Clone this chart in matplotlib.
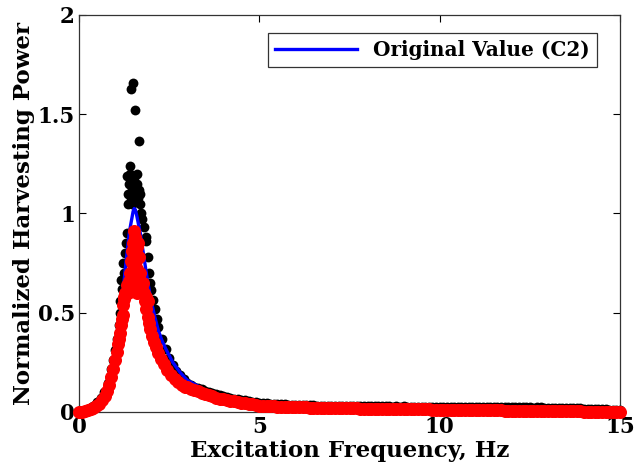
import matplotlib
matplotlib.use("Agg")
import matplotlib.pyplot as plt

plt.rcParams['font.family'] = ['DejaVu Serif']
plt.rcParams['font.weight'] = 'bold'

black_f = [0.00, 0.10, 0.20, 0.30, 0.40, 0.50, 0.60, 0.70, 0.80, 0.85,
           0.90, 0.95, 1.00, 1.05, 1.10, 1.13, 1.15, 1.17, 1.20, 1.22,
           1.25, 1.28, 1.30, 1.32,
           1.33, 1.35, 1.37, 1.39, 1.41, 1.42, 1.43, 1.44, 1.46, 1.48,
           1.50, 1.52, 1.55, 1.56, 1.58, 1.60, 1.61, 1.63, 1.65, 1.67,
           1.68, 1.70, 1.72,
           1.76, 1.80, 1.85, 1.87, 1.92, 1.95, 1.97, 2.00, 2.05, 2.10,
           2.15, 2.20, 2.30, 2.40, 2.50, 2.60, 2.70, 2.80, 2.90]
black_p = [0.000, 0.004, 0.010, 0.020, 0.032, 0.048, 0.068, 0.100, 0.145, 0.175,
           0.215, 0.260, 0.310, 0.370, 0.440, 0.500, 0.560, 0.665, 0.620, 0.750,
           0.700, 0.800, 0.850, 0.900,
           1.190, 1.100, 1.050, 1.150, 1.240, 1.200, 1.625, 1.080, 1.130, 1.050,
           1.655, 1.180, 1.520, 1.060, 1.100, 1.150, 1.200, 1.080, 1.120, 1.365,
           1.050, 1.100, 1.000,
           0.970, 0.930, 0.880, 0.860, 0.780, 0.700, 0.650, 0.615, 0.565, 0.520,
           0.470, 0.430, 0.370, 0.315, 0.270, 0.235, 0.205, 0.185, 0.165]

# identified points (red) around the resonance
red_f = [0.00, 0.08, 0.16, 0.24, 0.32, 0.40, 0.48, 0.56, 0.64, 0.72,
         0.78, 0.84, 0.90, 0.95, 1.00, 1.04, 1.08, 1.11, 1.14, 1.17,
         1.20, 1.22, 1.23, 1.24, 1.26,
         1.28, 1.33, 1.38, 1.42, 1.44, 1.46, 1.49, 1.51, 1.53, 1.55,
         1.57, 1.59, 1.61, 1.62, 1.64, 1.66, 1.68, 1.70, 1.72, 1.75,
         1.78, 1.80, 1.50, 1.55, 1.60, 1.65, 1.45, 1.35, 1.85, 1.90,
         1.83, 1.86, 1.90, 1.94, 1.98, 2.03, 2.08, 2.14, 2.20, 2.27,
         2.35, 2.45, 2.55, 2.65, 2.75, 2.85, 2.95]
red_p = [0.000, 0.002, 0.004, 0.008, 0.013, 0.020, 0.030, 0.042, 0.058, 0.080,
         0.105, 0.135, 0.175, 0.215, 0.260, 0.300, 0.340, 0.370, 0.400, 0.440,
         0.470, 0.490, 0.540, 0.580, 0.570,
         0.600, 0.640, 0.660, 0.700, 0.760, 0.810, 0.740, 0.850, 0.910, 0.880,
         0.800, 0.760, 0.720, 0.830, 0.850, 0.780, 0.700, 0.660, 0.640, 0.620,
         0.650, 0.600, 0.620, 0.650, 0.600, 0.640, 0.630, 0.600, 0.580, 0.560,
         0.560, 0.520, 0.480, 0.450, 0.420, 0.385, 0.355, 0.325, 0.295, 0.265,
         0.240, 0.210, 0.185, 0.165, 0.150, 0.138, 0.128]

# long tail, 3 to 15 Hz
tail_f = [3.0, 3.1, 3.2, 3.3, 3.4, 3.5, 3.6, 3.7, 3.8, 3.9,
          4.0, 4.1, 4.2, 4.3, 4.4, 4.5, 4.6, 4.7, 4.8, 4.9,
          5.0, 5.1, 5.2, 5.3, 5.4, 5.5, 5.6, 5.7, 5.8, 5.9,
          6.0, 6.1, 6.2, 6.3, 6.4, 6.5, 6.6, 6.7, 6.8, 6.9,
          7.0, 7.1, 7.2, 7.3, 7.4, 7.5, 7.6, 7.7, 7.8, 7.9,
          8.0, 8.1, 8.2, 8.3, 8.4, 8.5, 8.6, 8.7, 8.8, 8.9,
          9.0, 9.1, 9.2, 9.3, 9.4, 9.5, 9.6, 9.7, 9.8, 9.9,
          10.0, 10.1, 10.2, 10.3, 10.4, 10.5, 10.6, 10.7, 10.8, 10.9,
          11.0, 11.1, 11.2, 11.3, 11.4, 11.5, 11.6, 11.7, 11.8, 11.9,
          12.0, 12.1, 12.2, 12.3, 12.4, 12.5, 12.6, 12.7, 12.8, 12.9,
          13.0, 13.1, 13.2, 13.3, 13.4, 13.5, 13.6, 13.7, 13.8, 13.9,
          14.0, 14.1, 14.2, 14.3, 14.4, 14.5, 14.6, 14.7, 14.8, 14.9,
          15.0]
black_tail = [0.145, 0.136, 0.128, 0.121, 0.114, 0.107, 0.101, 0.095, 0.089, 0.084,
              0.079, 0.075, 0.071, 0.067, 0.064, 0.061, 0.058, 0.055, 0.052, 0.050,
              0.047, 0.045, 0.044, 0.042, 0.041, 0.040, 0.039, 0.038, 0.037, 0.036,
              0.035, 0.035, 0.034, 0.034, 0.033, 0.033, 0.032, 0.032, 0.031, 0.031,
              0.031, 0.030, 0.030, 0.031, 0.030, 0.029, 0.030, 0.029, 0.030, 0.029,
              0.029, 0.028, 0.028, 0.029, 0.029, 0.028, 0.028, 0.027, 0.028, 0.027,
              0.028, 0.027, 0.027, 0.026, 0.027, 0.027, 0.026, 0.026, 0.027, 0.026,
              0.026, 0.027, 0.027, 0.025, 0.026, 0.026, 0.025, 0.026, 0.025, 0.025,
              0.026, 0.025, 0.024, 0.025, 0.025, 0.026, 0.026, 0.024, 0.024, 0.025,
              0.025, 0.024, 0.023, 0.024, 0.024, 0.023, 0.022, 0.023, 0.023, 0.022,
              0.021, 0.022, 0.022, 0.021, 0.020, 0.020, 0.019, 0.019, 0.018, 0.018,
              0.017, 0.017, 0.016, 0.015, 0.014, 0.014, 0.013, 0.012, 0.011, 0.011,
              0.010]
red_tail = [0.125, 0.117, 0.110, 0.104, 0.098, 0.091, 0.085, 0.078, 0.072, 0.067,
            0.063, 0.059, 0.056, 0.053, 0.050, 0.047, 0.044, 0.041, 0.038, 0.035,
            0.032, 0.031, 0.030, 0.029, 0.028, 0.027, 0.026, 0.026, 0.025, 0.025,
            0.024, 0.024, 0.023, 0.023, 0.022, 0.022, 0.021, 0.021, 0.020, 0.020,
            0.019, 0.019, 0.019, 0.019, 0.018, 0.018, 0.018, 0.018, 0.017, 0.017,
            0.017, 0.017, 0.016, 0.016, 0.016, 0.016, 0.015, 0.015, 0.015, 0.015,
            0.014, 0.014, 0.014, 0.014, 0.013, 0.013, 0.013, 0.013, 0.012, 0.012,
            0.012, 0.012, 0.011, 0.011, 0.011, 0.011, 0.010, 0.010, 0.010, 0.010,
            0.009, 0.009, 0.009, 0.009, 0.008, 0.008, 0.008, 0.008, 0.007, 0.007,
            0.007, 0.007, 0.006, 0.006, 0.006, 0.006, 0.005, 0.005, 0.005, 0.005,
            0.004, 0.004, 0.004, 0.004, 0.003, 0.003, 0.003, 0.003, 0.003, 0.003,
            0.002, 0.002, 0.002, 0.002, 0.001, 0.001, 0.001, 0.001, 0.001, 0.001,
            0.000]

# original value curve (blue)
blue_f = [0.0, 0.2, 0.4, 0.6, 0.8, 0.9, 1.0, 1.1, 1.2, 1.3, 1.4, 1.5, 1.53,
          1.56, 1.6, 1.7, 1.8, 1.9, 2.0, 2.1, 2.2, 2.3, 2.4, 2.6, 2.8, 3.0,
          3.5, 4.0, 5.0, 6.0, 8.0, 10.0, 12.0, 15.0]
blue_p = [0.0, 0.008, 0.028, 0.065, 0.14, 0.20, 0.28, 0.41, 0.57, 0.75, 0.91,
          1.01, 1.025, 1.02, 0.99, 0.90, 0.78, 0.66, 0.56, 0.48, 0.41, 0.36,
          0.32, 0.25, 0.20, 0.16, 0.11, 0.08, 0.05, 0.035, 0.027, 0.022,
          0.018, 0.012]

fig = plt.figure(figsize=(6.34, 4.68), dpi=100)
ax = fig.add_axes([0.1246, 0.1197, 0.8534, 0.8483])

ax.scatter(black_f + tail_f, black_p + black_tail, s=50, c='black',
           linewidths=0, clip_on=False, zorder=2)
ax.plot(blue_f, blue_p, color='#0000ff', lw=2.4, zorder=3, label='Original Value (C2)')
ax.scatter(red_f + tail_f, red_p + red_tail, s=88, c='#ff0000',
           linewidths=0, clip_on=False, zorder=4)

ax.set_xlim(0, 15)
ax.set_ylim(0, 2)
ax.set_xticks([0, 5, 10, 15])
ax.set_yticks([0, 0.5, 1, 1.5, 2])
ax.set_yticklabels(['0', '0.5', '1', '1.5', '2'])
ax.tick_params(direction='in', length=5, width=0.8, top=True, right=True,
               labelsize=15.5)
ax.tick_params(axis='x', pad=3)
ax.tick_params(axis='y', pad=3)
for sp in ax.spines.values():
    sp.set_linewidth(0.9)
    sp.set_color('#333333')

ax.set_xlabel('Excitation Frequency, Hz', fontsize=16.5, fontweight='bold', labelpad=1)
ax.set_ylabel('Normalized Harvesting Power', fontsize=16.5, fontweight='bold', labelpad=2)

leg = ax.legend(loc='upper right', fontsize=14.4, fancybox=False, framealpha=1,
                edgecolor='#333333', borderpad=0.35, handlelength=4.1,
                bbox_to_anchor=(0.976, 0.98))
leg.get_frame().set_linewidth(0.9)

fig.savefig('out.png', dpi=100)
